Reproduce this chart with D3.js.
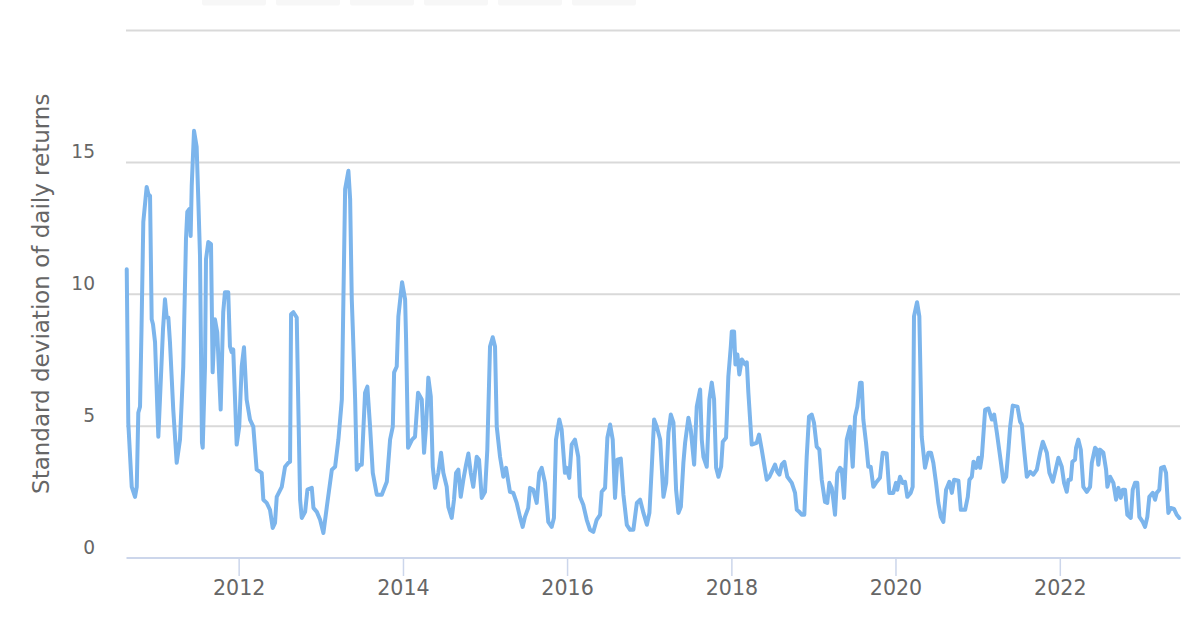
<!DOCTYPE html>
<html>
<head>
<meta charset="utf-8">
<script src="https://cdn.jsdelivr.net/npm/d3@7"></script>
<style>
  html, body { margin: 0; padding: 0; background: #ffffff; }
  svg { display: block; }
</style>
</head>
<body>
<svg id="chart" width="1200" height="643"></svg>
<script>
// ---- Data (decimal years and standard deviation of daily returns) ----
const dates = [
  2010.636,2010.655,2010.697,2010.737,2010.758,2010.777,2010.798,2010.816,2010.838,2010.879,2010.899,2010.920,2010.940,2010.956,2010.981,
  2011.021,2011.041,2011.078,2011.102,2011.123,2011.143,2011.163,2011.203,2011.245,2011.285,2011.325,2011.358,2011.374,2011.398,2011.415,2011.428,2011.456,2011.488,2011.508,2011.529,2011.553,2011.562,2011.590,2011.602,2011.630,2011.663,2011.683,2011.711,2011.739,2011.781,2011.812,2011.833,2011.873,2011.894,2011.915,2011.934,2011.976,
  2012.007,2012.037,2012.065,2012.097,2012.138,2012.178,2012.219,2012.280,2012.300,2012.341,2012.381,2012.414,2012.442,2012.463,2012.524,2012.564,2012.604,2012.625,2012.637,2012.665,2012.706,2012.726,2012.747,2012.767,2012.808,2012.836,2012.889,2012.909,2012.950,2012.990,
  2013.030,2013.072,2013.133,2013.173,2013.213,2013.255,2013.274,2013.295,2013.335,2013.356,2013.376,2013.389,2013.417,2013.437,2013.477,2013.498,2013.538,2013.566,2013.599,2013.632,2013.681,2013.742,2013.803,2013.843,2013.876,2013.892,2013.924,2013.944,2013.989,
  2014.026,2014.038,2014.062,2014.111,2014.147,2014.184,2014.229,2014.257,2014.281,2014.309,2014.339,2014.363,2014.391,2014.431,2014.464,2014.492,2014.533,2014.553,2014.594,2014.622,2014.647,2014.675,2014.704,2014.736,2014.769,2014.797,2014.826,2014.857,2014.899,2014.927,2014.960,
  2015.000,2015.028,2015.061,2015.094,2015.122,2015.143,2015.183,2015.223,2015.256,2015.304,2015.345,2015.386,2015.426,2015.459,2015.487,2015.527,2015.548,2015.588,2015.630,2015.661,2015.691,2015.731,2015.771,2015.812,2015.840,2015.865,2015.905,2015.934,2015.974,2015.995,
  2016.027,2016.056,2016.096,2016.136,2016.157,2016.197,2016.239,2016.279,2016.319,2016.360,2016.401,2016.421,2016.462,2016.490,2016.523,2016.555,2016.583,2016.611,2016.653,2016.685,2016.726,2016.766,2016.806,2016.848,2016.888,2016.928,2016.970,
  2017.001,2017.030,2017.058,2017.091,2017.132,2017.172,2017.205,2017.233,2017.262,2017.294,2017.326,2017.354,2017.384,2017.415,2017.436,2017.476,2017.505,2017.546,2017.578,2017.619,2017.639,2017.659,2017.700,2017.732,2017.761,2017.789,2017.814,2017.842,2017.875,2017.895,2017.935,2017.963,2017.993,
  2018.005,2018.033,2018.049,2018.073,2018.097,2018.127,2018.167,2018.188,2018.207,2018.248,2018.309,2018.337,2018.370,2018.410,2018.431,2018.463,2018.532,2018.560,2018.585,2018.614,2018.645,2018.682,2018.736,2018.776,2018.797,2018.828,2018.857,2018.889,2018.918,2018.946,2018.979,
  2019.007,2019.040,2019.072,2019.101,2019.141,2019.169,2019.194,2019.223,2019.242,2019.263,2019.291,2019.324,2019.345,2019.373,2019.406,2019.446,2019.479,2019.507,2019.535,2019.568,2019.588,2019.608,2019.641,2019.669,2019.698,2019.730,2019.762,2019.811,2019.844,2019.893,2019.925,2019.973,
  2020.006,2020.022,2020.055,2020.088,2020.116,2020.144,2020.185,2020.209,2020.225,2020.262,2020.290,2020.319,2020.359,2020.400,2020.432,2020.460,2020.493,2020.521,2020.551,2020.582,2020.615,2020.655,2020.685,2020.713,2020.765,2020.794,2020.847,2020.879,2020.899,2020.928,2020.948,2020.980,
  2021.009,2021.029,2021.050,2021.090,2021.130,2021.172,2021.200,2021.233,2021.273,2021.313,2021.346,2021.374,2021.395,2021.427,2021.484,2021.516,2021.537,2021.565,2021.598,2021.638,2021.678,2021.720,2021.760,2021.793,2021.842,2021.873,2021.915,2021.955,2021.983,
  2022.024,2022.052,2022.085,2022.105,2022.134,2022.153,2022.186,2022.198,2022.226,2022.256,2022.287,2022.329,2022.369,2022.390,2022.430,2022.450,2022.470,2022.491,2022.531,2022.564,2022.580,2022.613,2022.653,2022.686,2022.714,2022.743,2022.767,2022.795,2022.823,2022.865,2022.889,2022.917,2022.945,2022.970,
  2023.011,2023.039,2023.067,2023.091,2023.133,2023.161,2023.181,2023.213,2023.234,2023.270,2023.295,2023.323,2023.352,2023.392,2023.425,2023.457
];
const values = [
  10.93,5.10,2.68,2.30,2.68,5.49,5.72,8.65,12.72,14.05,13.78,13.71,9.03,8.84,8.16,
  4.58,5.99,8.65,9.79,9.10,9.10,8.16,5.61,3.59,4.47,7.24,12.07,13.10,13.21,12.19,14.09,16.18,15.57,13.59,11.43,4.35,4.16,7.24,11.31,11.96,11.88,7.02,9.03,8.54,5.61,9.30,10.06,10.06,8.00,7.78,7.89,4.28,
  4.96,7.24,7.97,5.99,5.23,4.96,3.33,3.21,2.19,2.07,1.81,1.12,1.31,2.30,2.68,3.44,3.59,3.63,9.22,9.30,9.10,5.61,2.19,1.50,1.73,2.57,2.64,1.88,1.73,1.43,
  0.93,1.92,3.33,3.44,4.47,5.99,9.79,13.97,14.66,13.59,9.79,8.65,5.99,3.33,3.52,3.52,6.25,6.48,4.96,3.21,2.38,2.38,2.87,4.47,4.96,7.02,7.24,9.14,10.44,
  9.79,8.27,4.16,4.47,4.58,6.25,5.99,3.97,4.96,6.82,6.10,3.44,2.64,3.21,3.97,3.21,2.68,1.92,1.50,2.19,3.21,3.33,2.30,2.95,3.52,3.94,3.21,2.68,3.82,3.71,2.26,
  2.49,4.09,8.00,8.35,8.00,4.96,3.82,3.06,3.40,2.49,2.45,2.07,1.54,1.16,1.54,1.88,2.64,2.57,2.07,3.21,3.40,2.83,1.35,1.16,1.50,4.47,5.23,4.85,3.21,3.40,
  3.02,4.28,4.47,3.82,2.30,2.00,1.43,1.05,0.97,1.43,1.62,2.49,2.64,4.54,5.04,4.47,2.26,3.71,3.75,2.38,1.24,1.05,1.05,2.07,2.19,1.69,1.24,
  1.69,3.44,5.23,4.96,4.47,2.30,2.83,4.73,5.42,5.11,2.57,1.69,1.92,3.59,4.35,5.30,4.85,3.52,5.72,6.37,4.47,3.82,3.44,5.99,6.63,5.99,3.40,3.06,3.44,4.39,4.54,6.86,8.00,
  8.57,8.57,7.32,7.70,6.94,7.51,7.32,7.40,6.25,4.28,4.35,4.66,4.09,3.33,2.95,3.06,3.52,3.25,3.14,3.52,3.63,3.06,2.83,2.45,1.81,1.73,1.62,1.62,3.82,5.34,5.42,
  5.11,4.20,4.09,2.95,2.11,2.07,2.83,2.64,2.19,1.62,3.21,3.40,3.33,2.26,4.47,4.96,3.44,5.34,5.72,6.63,6.63,5.23,4.35,3.44,3.44,2.68,2.83,3.02,3.97,3.94,2.45,2.45,
  2.83,2.57,3.06,2.83,2.87,2.30,2.45,2.68,9.14,9.68,9.14,4.58,3.40,3.97,3.97,3.59,2.83,2.07,1.54,1.35,2.57,2.87,2.45,2.95,2.91,1.81,1.81,2.30,2.95,3.06,3.63,3.40,
  3.78,3.40,3.82,5.61,5.65,5.23,5.42,4.73,3.82,2.87,3.06,4.09,4.96,5.76,5.72,5.15,5.04,4.09,3.06,3.25,3.14,3.33,3.97,4.39,3.97,3.21,2.87,3.40,3.78,
  3.44,2.83,2.49,2.95,2.95,3.63,3.71,4.16,4.47,4.09,2.68,2.49,2.68,3.59,4.16,4.09,3.52,4.09,3.97,3.33,2.68,3.06,2.83,2.19,2.64,2.26,2.57,2.57,1.62,1.50,2.57,2.83,2.83,1.54,
  1.35,1.16,1.54,2.30,2.45,2.19,2.45,2.57,3.40,3.44,3.21,1.69,1.88,1.84,1.62,1.50
];
const xTickYears = [2012, 2014, 2016, 2018, 2020, 2022];
const yTickValues = [0, 5, 10, 15, 20];
const yTickLabels = ["0", "5", "10", "15", ""];
const xDomainYears = [2010.627, 2023.465];
const yDomain = [0, 20];
const yTitle = "Standard deviation of daily returns";
const rangeButtons = [0, 1, 2, 3, 4, 5];

// ---- Helpers ----
function decYearToDate(y) {
  const yr = Math.floor(y);
  const s = Date.UTC(yr, 0, 1), e = Date.UTC(yr + 1, 0, 1);
  return new Date(s + (y - yr) * (e - s));
}

const data = dates.map((d, i) => ({ date: decYearToDate(d), value: values[i] }));

// ---- Layout ----
const plotLeft = 126, plotRight = 1180, plotTop = 30, plotBottom = 557.5;
const font = "'DejaVu Sans', 'Lucida Grande', Verdana, sans-serif";

const svg = d3.select("#chart");

// range-selector buttons (cut off at top)
const btnScale = d3.scaleBand().domain(rangeButtons).range([202, 636]).paddingInner(10 / 74);
svg.append("g").selectAll("rect").data(rangeButtons).join("rect")
  .attr("x", d => btnScale(d)).attr("y", -12)
  .attr("width", btnScale.bandwidth()).attr("height", 17.5)
  .attr("rx", 2).attr("fill", "#f7f7f7");

const x = d3.scaleUtc()
  .domain(xDomainYears.map(decYearToDate))
  .range([plotLeft, plotRight]);
const y = d3.scaleLinear().domain(yDomain).range([plotBottom, plotTop]);

// Y grid + labels
const yAxis = d3.axisLeft(y)
  .tickValues(yTickValues)
  .tickSize(-(plotRight - plotLeft))
  .tickFormat((d, i) => yTickLabels[i]);
const gy = svg.append("g").attr("transform", `translate(${plotLeft},0)`).call(yAxis);
gy.select(".domain").remove();
gy.selectAll(".tick line").attr("stroke", "#d9d9d9").attr("stroke-width", 2)
  .filter(d => d === 0).remove();
gy.selectAll(".tick text")
  .attr("x", -31).attr("y", -4).attr("dy", null)
  .attr("fill", "#666666")
  .style("font-family", font).style("font-size", "18.6px")
  .attr("text-anchor", "end");

// X axis
const xAxis = d3.axisBottom(x)
  .tickValues(xTickYears.map(v => decYearToDate(v)))
  .tickFormat(d3.utcFormat("%Y"))
  .tickSize(18.5).tickSizeOuter(0);
const gx = svg.append("g").attr("transform", `translate(0,${plotBottom})`).call(xAxis);
gx.select(".domain").attr("stroke", "#ccd6eb").attr("stroke-width", 2);
gx.selectAll(".tick line").attr("stroke", "#ccd6eb").attr("stroke-width", 1.5);
gx.selectAll(".tick text")
  .attr("y", 37.5).attr("dy", null)
  .attr("fill", "#666666")
  .style("font-family", font).style("font-size", "20.6px");

// Y title
svg.append("text")
  .attr("transform", `translate(49,${(plotTop + plotBottom) / 2}) rotate(-90)`)
  .attr("text-anchor", "middle")
  .attr("fill", "#666666")
  .style("font-family", font).style("font-size", "23px")
  .text(yTitle);

// Line
const line = d3.line()
  .x(d => x(d.date))
  .y(d => y(d.value))
  .curve(d3.curveLinear);
svg.append("path")
  .datum(data)
  .attr("fill", "none")
  .attr("stroke", "#7cb5ec")
  .attr("stroke-width", 4)
  .attr("stroke-linejoin", "round")
  .attr("stroke-linecap", "round")
  .attr("d", line);
</script>
</body>
</html>
